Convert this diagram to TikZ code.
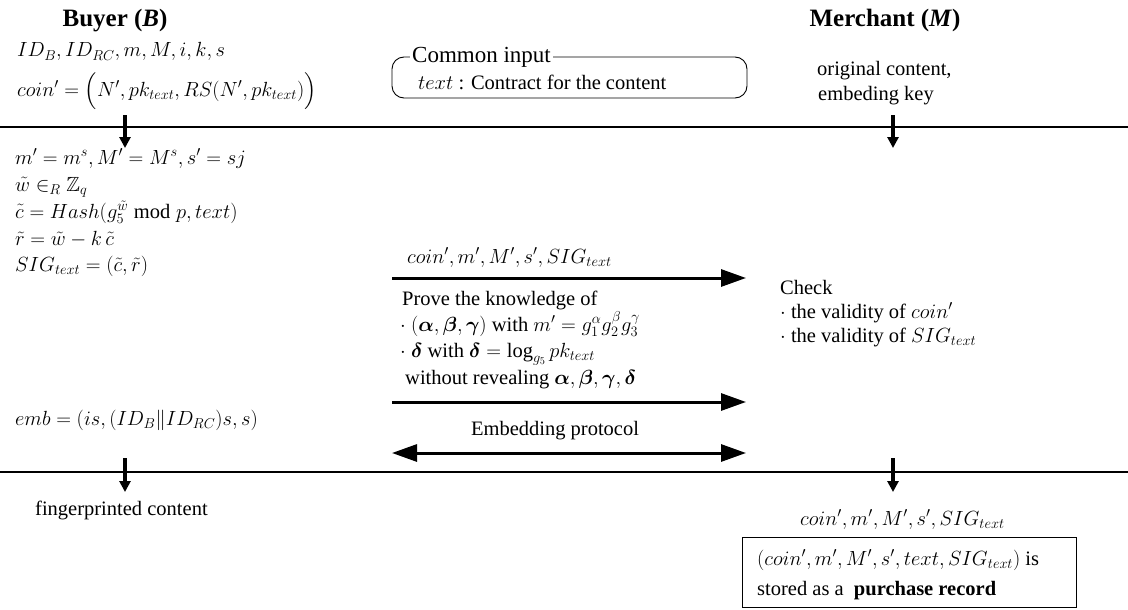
\RequirePackage{fix-cm}
\documentclass[tikz,border=0pt]{standalone}
\usepackage{amsmath,amssymb}
\usepackage{fontspec}
\setmainfont{Liberation Serif}
\usetikzlibrary{arrows.meta}
\newcommand{\bodyfs}{\fontsize{20.5}{24}\selectfont}
\newcommand{\titlefs}{\fontsize{25}{30}\selectfont}
\begin{document}
\begin{tikzpicture}[x=1pt,y=-1pt,
  lbl/.style={anchor=base west, inner sep=0pt, font=\bodyfs},
  ttl/.style={anchor=base, inner sep=0pt, font=\titlefs\bfseries},
  msg/.style={line width=3pt, -{Triangle[length=25pt,width=17pt]}},
  msgboth/.style={line width=3pt, {Triangle[length=25pt,width=17pt]}-{Triangle[length=25pt,width=17pt]}},
  flow/.style={line width=3.5pt, -{Triangle[length=11pt,width=11pt]}},
  rulebar/.style={line width=1.4pt},
  framebox/.style={draw, line width=1pt, inner sep=0pt}]
\useasboundingbox (0,0) rectangle (1128,610);

% titles
\node[ttl] (buyer) at (115,27) {Buyer (\textit{B})};
\node[ttl] (merchant) at (885,27) {Merchant (\textit{M})};

% buyer inputs
\node[lbl] (b1) at (17,57) {$ID_{B}, ID_{RC}, m, M, i, k, s$};
\node[lbl] (b2) at (17,96) {$coin' = \Big(N', pk_{text}, RS(N', pk_{text})\Big)$};

% common input
\node[framebox, line width=0.9pt, rounded corners=12pt, minimum width=355pt, minimum height=41pt] (cibox) at (569.5,77.5) {};
\node[anchor=base west, fill=white, inner sep=2pt, font=\fontsize{23}{28}\selectfont] (citl) at (410,63) {Common input};
\node[lbl] (citx) at (418,89) {$text$ : Contract for the content};

% merchant inputs
\node[lbl] (mi1) at (817,76) {original content,};
\node[lbl] (mi2) at (818,101) {embeding key};

% rules
\coordinate (r1l) at (0,127);
\coordinate (r1r) at (1128,127);
\coordinate (r2l) at (0,472);
\coordinate (r2r) at (1128,472);
\draw[rulebar] (r1l) -- (r1r);
\draw[rulebar] (r2l) -- (r2r);

% downward flows
\coordinate (bA1) at (125,115);
\coordinate (bA2) at (125,148);
\coordinate (mA1) at (893,115);
\coordinate (mA2) at (893,148);
\coordinate (bB1) at (125,458);
\coordinate (bB2) at (125,492);
\coordinate (mB1) at (893,458);
\coordinate (mB2) at (893,492);
\draw[flow] (bA1) -- (bA2);
\draw[flow] (mA1) -- (mA2);
\draw[flow] (bB1) -- (bB2);
\draw[flow] (mB1) -- (mB2);

% buyer computations
\node[lbl] (c1) at (15,164) {$m' = m^{s}, M' = M^{s}, s' = sj$};
\node[lbl] (c2) at (15,191) {$\tilde{w} \in_{R} \mathbb{Z}_{q}$};
\node[lbl] (c3) at (15,218) {$\tilde{c} = Hash(g_{5}^{\tilde{w}} \bmod p, text)$};
\node[lbl] (c4) at (15,245) {$\tilde{r} = \tilde{w} - k\,\tilde{c}$};
\node[lbl] (c5) at (15,271) {$SIG_{text} = (\tilde{c}, \tilde{r})$};
\node[lbl] (c6) at (15,425) {$emb = (is, (ID_{B} \| ID_{RC})s, s)$};

% messages
\coordinate (a1s) at (392,278);
\coordinate (a1e) at (746,278);
\coordinate (a2s) at (392,402);
\coordinate (a2e) at (746,402);
\coordinate (a3s) at (392,453);
\coordinate (a3e) at (746,453);
\draw[msg] (a1s) -- (a1e);
\draw[msg] (a2s) -- (a2e);
\draw[msgboth] (a3s) -- (a3e);

\node[lbl] (m1) at (407,263) {$coin', m', M', s', SIG_{text}$};
\node[lbl] (p1) at (402,305) {Prove the knowledge of};
\node[lbl] (p2) at (400,331) {$\cdot$ $(\boldsymbol{\alpha}, \boldsymbol{\beta}, \boldsymbol{\gamma})$ with $m' = g_{1}^{\alpha} g_{2}^{\beta} g_{3}^{\gamma}$};
\node[lbl] (p3) at (400,357) {$\cdot$ $\boldsymbol{\delta}$ with $\boldsymbol{\delta} = \log_{g_{5}} pk_{text}$};
\node[lbl] (p4) at (405,384) {without revealing $\boldsymbol{\alpha}, \boldsymbol{\beta}, \boldsymbol{\gamma}, \boldsymbol{\delta}$};
\node[anchor=base, inner sep=0pt, font=\bodyfs] (embp) at (555,435) {Embedding protocol};

% merchant check
\node[lbl] (k1) at (780,294) {Check};
\node[lbl] (k2) at (780,318) {$\cdot$ the validity of $coin'$};
\node[lbl] (k3) at (780,342) {$\cdot$ the validity of $SIG_{text}$};

% outputs
\node[lbl] (o1) at (35,515) {fingerprinted content};
\node[lbl] (o2) at (800,525) {$coin', m', M', s', SIG_{text}$};

\node[framebox, minimum width=334pt, minimum height=70pt] (rec) at (909,572) {};
\node[lbl] (rec1) at (757,565) {$(coin', m', M', s', text, SIG_{text})$ is};
\node[lbl] (rec2) at (757,595) {stored as a \ \textbf{purchase record}};
\end{tikzpicture}
\end{document}
